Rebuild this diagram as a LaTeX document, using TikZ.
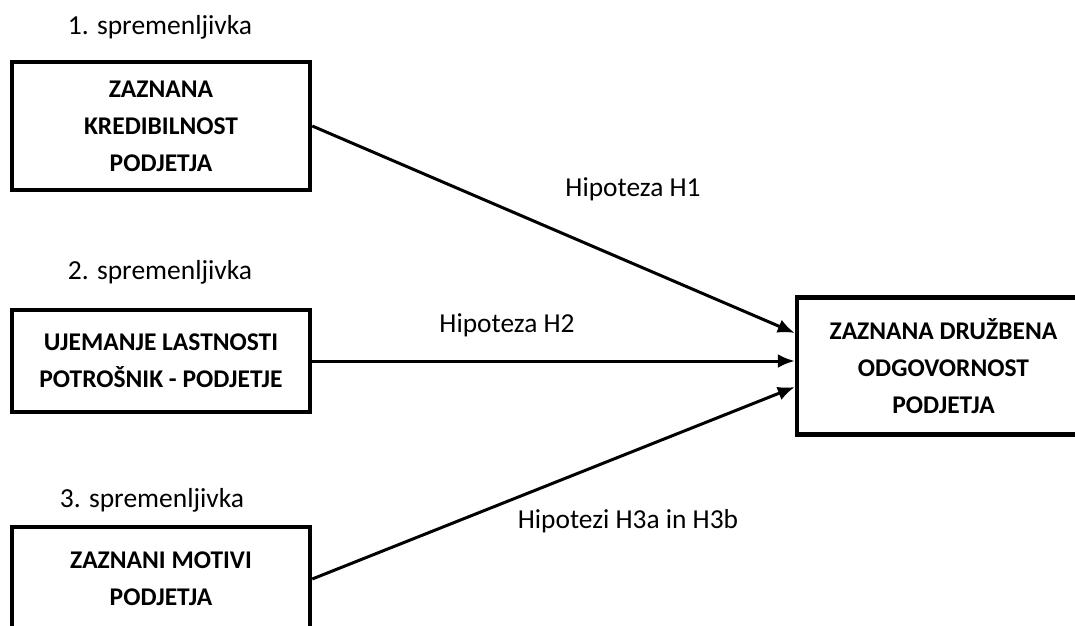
\documentclass[tikz,border=0pt]{standalone}
\usepackage{fontspec}
\setmainfont{Carlito}
\usetikzlibrary{arrows.meta,calc}

\begin{document}
\begin{tikzpicture}[
  x=1pt, y=1pt,
  varbox/.style={draw, line width=4.5pt, align=center, font=\bfseries\fontsize{25.5}{37}\selectfont,
    minimum width=298pt, inner sep=0pt},
  varlabel/.style={font=\fontsize{27.5}{30}\selectfont, inner sep=0pt},
  hyplabel/.style={font=\fontsize{27.4}{30}\selectfont, inner sep=0pt},
  link/.style={line width=3pt, -{Latex[length=17pt,width=14pt]}}
  ]

\useasboundingbox (0,0) rectangle (1075,625);

% variables
\node[varbox, minimum height=128pt] (credib) at (161,499)
  {ZAZNANA\\KREDIBILNOST\\PODJETJA};
\node[varbox, minimum height=102pt] (match) at (161,264)
  {UJEMANJE LASTNOSTI\\POTRO\v{S}NIK - PODJETJE};
\node[varbox, minimum height=104pt] (motive) at (161,46)
  {ZAZNANI MOTIVI\\PODJETJA};

\node[varlabel] (lab1) at (160,598) {1. spremenljivka};
\node[varlabel] (lab2) at (160,353) {2. spremenljivka};
\node[varlabel] (lab3) at (152,125) {3. spremenljivka};

% outcome
\node[varbox, minimum width=293pt, minimum height=137pt] (csr) at (943.5,259)
  {ZAZNANA DRU\v{Z}BENA\\ODGOVORNOST\\PODJETJA};

% hypotheses
\draw[link] (credib.east) -- ($(csr.west)+(0,33)$);
\draw[link] (match.east) -- (csr.west |- match.east);
\draw[link] (motive.east) -- ($(csr.west)+(0,-21)$);

\node[hyplabel] (h1) at (633,436) {Hipoteza H1};
\node[hyplabel] (h2) at (507,300) {Hipoteza H2};
\node[hyplabel] (h3) at (628,104) {Hipotezi H3a in H3b};

\end{tikzpicture}
\end{document}
